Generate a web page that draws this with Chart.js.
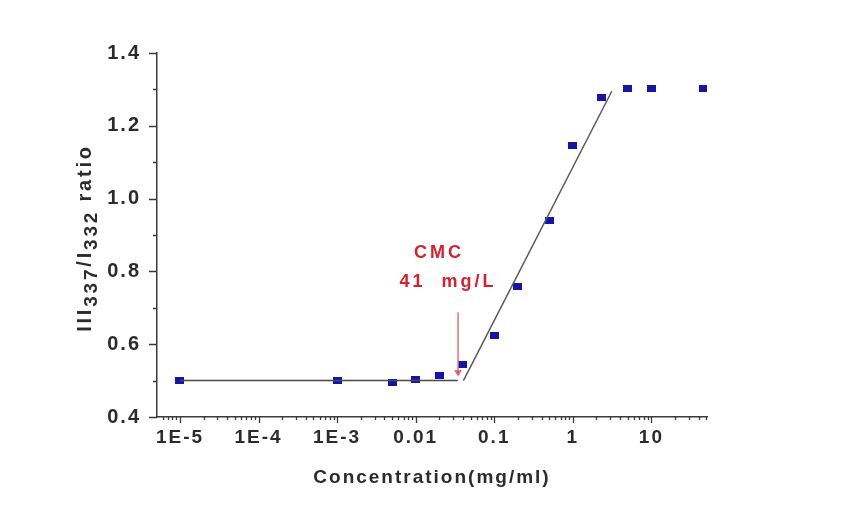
<!DOCTYPE html>
<html>
<head>
<meta charset="utf-8">
<script src="https://cdn.jsdelivr.net/npm/chart.js@4.4.1/dist/chart.umd.min.js"></script>
<style>
    html, body { margin: 0; padding: 0; background: #fff; }
    canvas { display: block; }
</style>
</head>
<body>
<canvas id="myChart" width="860" height="510"></canvas>
<script>
// Measured points
const concentration = [1e-5, 1e-3, 0.005, 0.01, 0.02, 0.04, 0.1, 0.2, 0.5, 1, 2.3, 5, 10, 46];
const ratio = [0.500, 0.500, 0.495, 0.502, 0.513, 0.543, 0.624, 0.758, 0.941, 1.147, 1.278, 1.303, 1.303, 1.303];

// Fitted lines
const flatFitX = [1e-5, 0.0343];
const flatFitY = [0.500, 0.500];
const riseFitX = [0.0405, 3.13];
const riseFitY = [0.500, 1.295];

// CMC marker
const cmcX = [0.0346, 0.0346];
const cmcY = [0.688, 0.523];
const cmcText = ['CMC', '41  mg/L'];

// Axis ticks
const xTickValues = [1e-5, 1e-4, 1e-3, 0.01, 0.1, 1, 10];
const xTickLabels = ['1E-5', '1E-4', '1E-3', '0.01', '0.1', '1', '10'];
const yTickValues = [0.4, 0.6, 0.8, 1.0, 1.2, 1.4];
const yTickLabels = ['0.4', '0.6', '0.8', '1.0', '1.2', '1.4'];

const toXY = (xs, ys) => xs.map((x, i) => ({ x: x, y: ys[i] }));

function xLabel(v) {
    const i = xTickValues.findIndex(t => Math.abs(Math.log10(t) - Math.log10(v)) < 1e-6);
    return i >= 0 ? xTickLabels[i] : '';
}
function yLabel(v) {
    const i = yTickValues.findIndex(t => Math.abs(t - v) < 1e-6);
    return i >= 0 ? yTickLabels[i] : '';
}

// blue square marker
const marker = document.createElement('canvas');
marker.width = 9;
marker.height = 7;
const mctx = marker.getContext('2d');
mctx.fillStyle = '#1414a8';
mctx.fillRect(0, 0, 9, 7);

// Tick marks, y title with subscripts, red CMC text
const extras = {
    id: 'extras',
    beforeDraw(chart) {
        chart.ctx.letterSpacing = '2px';
    },
    afterDraw(chart) {
        const ctx = chart.ctx;
        const xs = chart.scales.x;
        const ys = chart.scales.y;
        const area = chart.chartArea;

        ctx.save();
        ctx.strokeStyle = '#3a3a3a';
        ctx.lineWidth = 1.3;
        ctx.beginPath();
        xs.ticks.forEach(t => {
            const px = Math.round(xs.getPixelForValue(t.value)) + 0.5;
            const len = xLabel(t.value) ? 6 : 3;
            ctx.moveTo(px, area.bottom);
            ctx.lineTo(px, area.bottom + len);
        });
        ys.ticks.forEach(t => {
            const py = Math.round(ys.getPixelForValue(t.value)) + 0.5;
            const len = yLabel(t.value) ? 8 : 4;
            ctx.moveTo(area.left, py);
            ctx.lineTo(area.left - len, py);
        });
        ctx.stroke();

        // y axis title
        const parts = [
            ['III', 0], ['337', 1], ['/I', 0], ['332', 1], [' ratio', 0]
        ];
        ctx.letterSpacing = '2.8px';
        ctx.fillStyle = '#2b2b2b';
        ctx.textBaseline = 'alphabetic';
        let total = 0;
        parts.forEach(p => {
            ctx.font = 'bold ' + (p[1] ? 19 : 20) + 'px "Liberation Sans", Arial, sans-serif';
            total += ctx.measureText(p[0]).width;
        });
        ctx.translate(91, 238);
        ctx.rotate(-Math.PI / 2);
        let pos = -total / 2;
        parts.forEach(p => {
            ctx.font = 'bold ' + (p[1] ? 19 : 20) + 'px "Liberation Sans", Arial, sans-serif';
            ctx.fillText(p[0], pos, p[1] ? 6 : 0);
            pos += ctx.measureText(p[0]).width;
        });
        ctx.restore();

        // CMC annotation
        ctx.save();
        ctx.letterSpacing = '3px';
        ctx.fillStyle = '#d6202c';
        ctx.font = 'bold 18px "Liberation Sans", Arial, sans-serif';
        ctx.textAlign = 'center';
        ctx.textBaseline = 'middle';
        ctx.fillText(cmcText[0], xs.getPixelForValue(0.0198), ys.getPixelForValue(0.8505));
        ctx.fillText(cmcText[1], xs.getPixelForValue(0.0258), ys.getPixelForValue(0.771));
        ctx.restore();
    }
};

const ctx = document.getElementById('myChart').getContext('2d');

const myChart = new Chart(ctx, {
    type: 'scatter',
    data: {
        datasets: [
            {
                label: 'flat fit',
                data: toXY(flatFitX, flatFitY),
                showLine: true,
                borderColor: '#4a4a4a',
                borderWidth: 1.5,
                pointRadius: 0
            },
            {
                label: 'rise fit',
                data: toXY(riseFitX, riseFitY),
                showLine: true,
                borderColor: '#5a5a5a',
                borderWidth: 1.5,
                pointRadius: 0
            },
            {
                label: 'CMC',
                data: toXY(cmcX, cmcY),
                showLine: true,
                borderColor: '#e8707c',
                borderWidth: 1.5,
                pointStyle: 'triangle',
                rotation: 180,
                pointRadius: [0, 3],
                backgroundColor: '#e0303c'
            },
            {
                label: 'ratio',
                data: toXY(concentration, ratio),
                pointStyle: marker,
                pointRadius: 4
            }
        ]
    },
    options: {
        responsive: false,
        animation: false,
        devicePixelRatio: 1,
        layout: {
            padding: { left: 0, top: 53, right: 153, bottom: 0 }
        },
        plugins: {
            legend: { display: false },
            tooltip: { enabled: false }
        },
        scales: {
            x: {
                type: 'logarithmic',
                min: 5.1e-6,
                max: 51,
                afterFit: s => { s.height = 93; },
                afterBuildTicks: s => {
                    const ticks = [];
                    for (let e = -6; e <= 1; e++) {
                        for (let m = 1; m <= 9; m++) {
                            const v = m * Math.pow(10, e);
                            if (v >= s.min && v <= s.max) ticks.push({ value: v });
                        }
                    }
                    s.ticks = ticks;
                },
                grid: { display: false, drawTicks: false },
                border: { display: true, color: '#3a3a3a', width: 1.5 },
                ticks: {
                    autoSkip: false,
                    maxRotation: 0,
                    padding: 9,
                    color: '#2b2b2b',
                    font: { family: '"Liberation Sans", Arial, sans-serif', size: 19, weight: 'bold' },
                    callback: v => xLabel(v)
                },
                title: {
                    display: true,
                    text: 'Concentration(mg/ml)',
                    color: '#2b2b2b',
                    font: { family: '"Liberation Sans", Arial, sans-serif', size: 19, weight: 'bold' },
                    padding: { top: 0, bottom: 21 }
                }
            },
            y: {
                min: 0.4,
                max: 1.4,
                afterFit: s => { s.width = 157; },
                afterBuildTicks: s => {
                    const ticks = [];
                    for (let i = 0; i <= 10; i++) ticks.push({ value: Math.round((0.4 + i * 0.1) * 10) / 10 });
                    s.ticks = ticks;
                },
                grid: { display: false, drawTicks: false },
                border: { display: true, color: '#3a3a3a', width: 1.5 },
                ticks: {
                    autoSkip: false,
                    padding: 16,
                    color: '#2b2b2b',
                    font: { family: '"Liberation Sans", Arial, sans-serif', size: 20, weight: 'bold' },
                    callback: v => yLabel(v)
                }
            }
        }
    },
    plugins: [extras]
});
</script>
</body>
</html>
